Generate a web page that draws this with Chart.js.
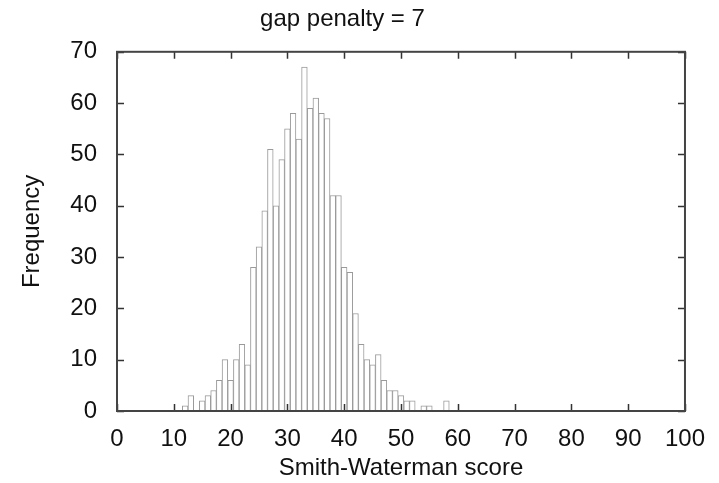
<!DOCTYPE html>
<html>
<head>
<meta charset="utf-8">
<script src="https://cdn.jsdelivr.net/npm/chart.js@4"></script>
<style>
  html, body { margin: 0; padding: 0; background: #fff; }
  canvas { display: block; }
</style>
</head>
<body>
<canvas id="chart" width="719" height="483"></canvas>
<script>
// histogram bins (score) and counts
const scores = [12, 13, 14, 15, 16, 17, 18, 19, 20, 21, 22, 23, 24, 25, 26, 27, 28, 29, 30,
  31, 32, 33, 34, 35, 36, 37, 38, 39, 40, 41, 42, 43, 44, 45, 46, 47, 48, 49, 50,
  51, 52, 53, 54, 55, 56, 57, 58];
const counts = [1, 3, 0, 2, 3, 4, 6, 10, 6, 10, 13, 9, 28, 32, 39, 51, 40, 49, 55,
  58, 53, 67, 59, 61, 58, 57, 42, 42, 28, 27, 19, 13, 10, 9, 11, 6, 4, 4, 3,
  2, 2, 0, 1, 1, 0, 0, 2];

const font = { family: 'Liberation Sans, Arial, sans-serif', size: 24, weight: 'normal' };

// gnuplot style frame with inward ticks on all four sides
const frame = {
  id: 'frame',
  afterDraw(chart) {
    const { ctx, chartArea: a, scales } = chart;
    ctx.save();
    ctx.strokeStyle = '#333';
    ctx.lineWidth = 1.5;
    ctx.beginPath();
    scales.x.ticks.forEach(t => {
      const px = Math.round(scales.x.getPixelForValue(t.value)) + 0.5;
      ctx.moveTo(px, a.bottom); ctx.lineTo(px, a.bottom - 7);
      ctx.moveTo(px, a.top); ctx.lineTo(px, a.top + 7);
    });
    scales.y.ticks.forEach(t => {
      const py = Math.round(scales.y.getPixelForValue(t.value)) + 0.5;
      ctx.moveTo(a.left, py); ctx.lineTo(a.left + 7, py);
      ctx.moveTo(a.right, py); ctx.lineTo(a.right - 7, py);
    });
    ctx.stroke();
    ctx.lineWidth = 2;
    ctx.strokeStyle = '#444';
    ctx.strokeRect(a.left, a.top, a.right - a.left, a.bottom - a.top);
    ctx.restore();
  }
};

new Chart(document.getElementById('chart'), {
  type: 'bar',
  data: {
    datasets: [{
      data: scores.map((s, i) => ({ x: s, y: counts[i] })),
      backgroundColor: '#fff',
      borderColor: '#9a9a9a',
      borderWidth: 1,
      barPercentage: 1,
      categoryPercentage: 1
    }]
  },
  options: {
    responsive: false,
    animation: false,
    layout: { padding: { left: 0, right: 34, top: 0, bottom: 0 } },
    plugins: {
      legend: { display: false },
      tooltip: { enabled: false },
      title: {
        display: true,
        text: 'gap penalty = 7',
        color: '#111',
        font: font,
        padding: { top: 5, bottom: 18 }
      }
    },
    scales: {
      x: {
        type: 'linear',
        min: 0,
        max: 100,
        offset: false,
        grid: { display: false, drawTicks: false },
        border: { display: false },
        ticks: { stepSize: 10, color: '#111', font: font, padding: 14, maxRotation: 0 },
        title: { display: true, text: 'Smith-Waterman score', color: '#111', font: font, padding: { top: 4, bottom: 0 } },
        afterFit: s => { s.height = 72; }
      },
      y: {
        min: 0,
        max: 70,
        grid: { display: false, drawTicks: false },
        border: { display: false },
        ticks: { stepSize: 10, color: '#111', font: font, padding: 20 },
        title: { display: true, text: 'Frequency', color: '#111', font: font, padding: { top: 18, bottom: 0 } },
        afterFit: s => { s.width = 117; }
      }
    }
  },
  plugins: [frame]
});
</script>
</body>
</html>
